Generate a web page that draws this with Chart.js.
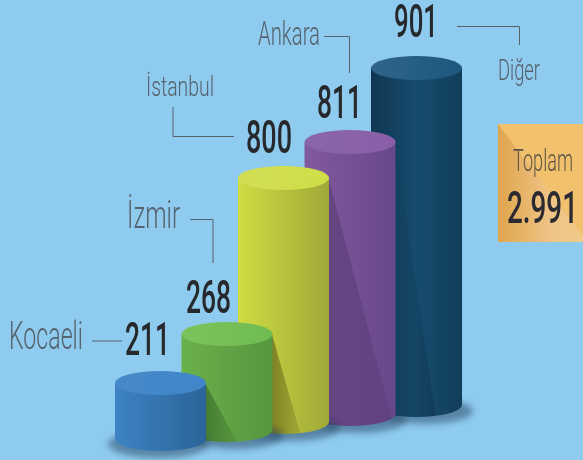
<!DOCTYPE html>
<html><head><meta charset="utf-8">
<style>html,body{margin:0;padding:0;background:#8ecbef;overflow:hidden}canvas{display:block}</style>
<script src="https://cdn.jsdelivr.net/npm/chart.js@4"></script>
</head><body><canvas id="c" width="583" height="460"></canvas>
<script>
const categories = ["Kocaeli","İzmir","İstanbul","Ankara","Diğer"];
const values = ["211","268","800","811","901"];
const totalLabel = "Toplam";
const totalValue = "2.991";
// the drawing is not to scale: centres and drawn extents are read off the picture, in picture units
const centres = [160.5,227,283.5,350,416.5];
const drawnBase = [21,30,38,46,55];
const drawnTop = [77,126,282,318,392];

const BG="#8ecbef", W=91, RY=12;
const styles=[
 {body:["#3d83c3","#2b6499"],top:["#4689c8","#3f86c9"]},
 {body:["#6bb14a","#55963f"],top:["#7cc25c","#70bd52"],shadow:{end:34,col:"30,70,25",a:[.45,.08]}},
 {body:["#d0dc42","#a0a838"],top:["#d2dd55","#d0de48"],shadow:{end:29,col:"70,60,10",a:[.5,.12]}},
 {body:["#82599e","#68488a"],top:["#8a66a9","#8a5fa8"],shadow:{end:66,col:"45,30,70",a:[.28,.12]}},
 {body:["#0f3650","#174c6f","#123e5b"],top:["#2f6488","#1e587e"],shadow:{end:41,col:"5,25,40",a:[.02,.24]}}
];
const LIGHT='300', BOLD='500';
const textLayout=[
 {l:9,r:83,b:349,c:27,col:"#56626d",w:LIGHT,t:categories[0]},
 {l:125,r:170,b:355,c:31,col:"#26282c",w:BOLD,t:values[0]},
 {l:127,r:180,b:228,c:26,col:"#56626d",w:LIGHT,t:categories[1]},
 {l:186,r:231,b:313,c:31,col:"#26282c",w:BOLD,t:values[1]},
 {l:146,r:214,b:96,c:19,col:"#56626d",w:LIGHT,t:categories[2]},
 {l:246,r:292,b:153,c:31,col:"#26282c",w:BOLD,t:values[2]},
 {l:258,r:320,b:45,c:22,col:"#56626d",w:LIGHT,t:categories[3]},
 {l:317,r:362,b:118,c:31,col:"#26282c",w:BOLD,t:values[3]},
 {l:394,r:438,b:37,c:31,col:"#26282c",w:BOLD,t:values[4]},
 {l:498,r:540,b:80,c:20,col:"#56626d",w:LIGHT,t:categories[4]},
 {l:513,r:573,b:171,c:21,col:"#5c5444",w:LIGHT,t:totalLabel},
 {l:507,r:578,b:223,c:30,col:"#2a2a30",w:BOLD,t:totalValue}
];
const leaders=[
 [[92,341],[122,341]],
 [[190,219.5],[213,219.5],[213,263]],
 [[173,107],[173,136.5],[234,136.5]],
 [[324,36.5],[349.5,36.5],[349.5,73]],
 [[457,26.5],[519.5,26.5],[519.5,45]]
];
function hGrad(ctx,x0,x1,cols){const g=ctx.createLinearGradient(x0,0,x1,0);cols.forEach((c,i)=>g.addColorStop(i/(cols.length-1),c));return g;}
function bodyPath(ctx,l,r,t,b,cx){ctx.beginPath();ctx.moveTo(l,t);ctx.lineTo(l,b);ctx.ellipse(cx,b,(r-l)/2,RY,0,Math.PI,0,true);ctx.lineTo(r,t);ctx.closePath();}
const cyl={id:'cyl',
 beforeDatasetsDraw(chart){const ctx=chart.ctx;ctx.save();ctx.fillStyle=BG;ctx.fillRect(0,0,583,460);ctx.restore();},
 afterDatasetsDraw(chart){
  const ctx=chart.ctx,els=chart.getDatasetMeta(0).data;
  for(let i=els.length-1;i>=0;i--){
   const e=els[i],cx=e.x,l=e.x-W/2,r=e.x+W/2,t=e.y,b=e.base,s=styles[i];
   // ground shadow
   ctx.save();ctx.filter='blur(3px)';ctx.fillStyle='rgba(35,65,95,.5)';ctx.beginPath();
   ctx.ellipse(cx+(i===0?-2:9),b+(i===0?5:6),W/2+(i===0?5:2),RY+(i===0?2:1),0,0,Math.PI*2);ctx.fill();ctx.restore();
   // body
   ctx.save();bodyPath(ctx,l,r,t,b,cx);ctx.fillStyle=hGrad(ctx,l,r,s.body);ctx.fill();
   ctx.clip();
   if(s.shadow){const p=els[i-1],pr=p.x+W/2,xe=pr+s.shadow.end,pt=p.y+2;
     const g=ctx.createLinearGradient(pr,0,xe,0);
     g.addColorStop(0,`rgba(${s.shadow.col},${s.shadow.a[0]})`);g.addColorStop(1,`rgba(${s.shadow.col},${s.shadow.a[1]})`);
     ctx.fillStyle=g;ctx.beginPath();ctx.moveTo(pr,pt);ctx.lineTo(xe,p.base+8);ctx.lineTo(xe,b+RY+2);ctx.lineTo(l,b+RY+2);ctx.lineTo(pr,pt);ctx.closePath();ctx.fill();}
   ctx.restore();
   // top
   ctx.save();ctx.beginPath();ctx.ellipse(cx,t,W/2,RY,0,0,Math.PI*2);ctx.fillStyle=hGrad(ctx,l,r,s.top);ctx.fill();
   ctx.restore();
  }
  // total box
  ctx.save();ctx.fillStyle="#f2c16e";ctx.fillRect(498,124,85,118);
  const g=ctx.createLinearGradient(498,0,583,0);g.addColorStop(0,"#dfa54d");g.addColorStop(.6,"#eec384");g.addColorStop(1,"#f0ca88");
  ctx.fillStyle=g;ctx.beginPath();ctx.moveTo(498,124);ctx.lineTo(583,236);ctx.lineTo(583,242);ctx.lineTo(498,242);ctx.closePath();ctx.fill();ctx.restore();
  // leaders
  ctx.save();ctx.strokeStyle="#55626e";ctx.lineWidth=1;
  leaders.forEach(p=>{ctx.beginPath();p.forEach((q,k)=>k?ctx.lineTo(q[0],q[1]):ctx.moveTo(q[0],q[1]));ctx.stroke();});ctx.restore();
  // text
  textLayout.forEach(o=>{ctx.save();const fs=o.c/0.68;ctx.font=`${o.w} ${fs}px Roboto`;ctx.textBaseline='alphabetic';ctx.textAlign='left';
    const m=ctx.measureText(o.t),sx=(o.r-o.l)/m.width;ctx.translate(o.l,o.b);ctx.scale(sx,1);ctx.fillStyle=o.col;ctx.fillText(o.t,0,0);ctx.restore();});
 }};
new Chart(document.getElementById('c'),{type:'bar',
 data:{labels:categories,datasets:[{data:centres.map((x,i)=>({x,y:[drawnBase[i],drawnTop[i]]})),backgroundColor:'rgba(0,0,0,0)',barThickness:W}]},
 options:{responsive:false,animation:false,layout:{padding:0},parsing:{xAxisKey:'x',yAxisKey:'y'},
  plugins:{legend:{display:false},tooltip:{enabled:false}},
  scales:{x:{type:'linear',offset:false,min:0,max:583,display:false},y:{min:0,max:460,display:false}}},
 plugins:[cyl]});
</script></body></html>
